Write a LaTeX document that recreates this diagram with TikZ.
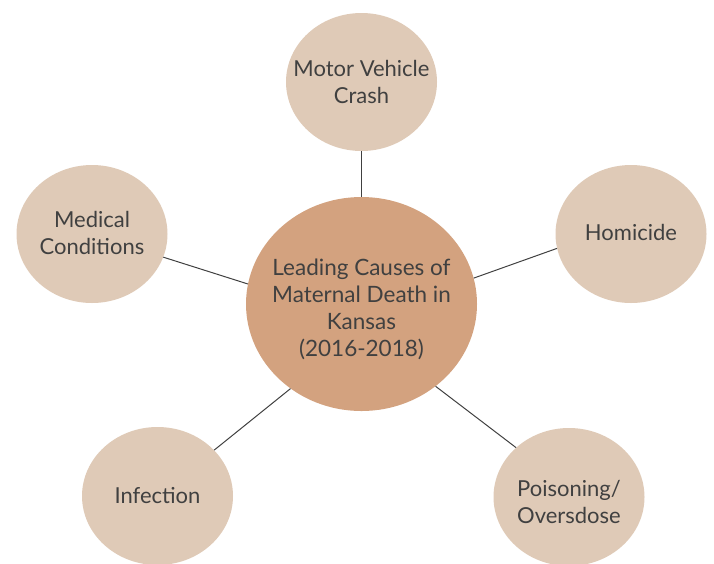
\documentclass[tikz,border=0pt]{standalone}
\usepackage{fontspec}
\setmainfont{Lato}
\usetikzlibrary{shapes.geometric}
\definecolor{hubfill}{HTML}{D3A27F}
\definecolor{leaffill}{HTML}{DFCAB7}
\definecolor{txt}{HTML}{404040}
\definecolor{edge}{HTML}{404040}
\tikzset{
  hub/.style={ellipse, fill=hubfill, minimum width=231pt, minimum height=214pt, inner sep=0pt},
  leaf/.style={ellipse, fill=leaffill, minimum width=151pt, minimum height=138pt, inner sep=0pt},
  lbl/.style={text=txt, align=center, inner sep=0pt, font=\fontsize{22}{27}\selectfont},
  hublbl/.style={lbl, font=\fontsize{22.5}{27}\selectfont},
  link/.style={draw=edge, line width=1pt}
}
\begin{document}
\begin{tikzpicture}[x=1pt,y=-1pt]
\useasboundingbox (0,0) rectangle (714,563);
\node[hub] (hub) at (361.5,304) {};
\node[leaf] (mvc) at (361.5,82) {};
\node[leaf] (med) at (92,234) {};
\node[leaf] (hom) at (631,234) {};
\node[leaf] (inf) at (157.5,496) {};
\node[leaf] (poi) at (569,497) {};
\node[hublbl] (hubtext) at (361.5,309) {Leading Causes of\\Maternal Death in\\Kansas\\(2016-2018)};
\node[lbl] (mvctext) at (361.5,82) {Motor Vehicle\\Crash};
\node[lbl] (medtext) at (92,233) {Medical\\Conditions};
\node[lbl] (homtext) at (631,232) {Homicide};
\node[lbl] (inftext) at (157.5,496) {Infection};
\node[lbl] (poitext) at (569,502) {Poisoning/\\Oversdose};
\draw[link] (mvc.south) -- (hub.north);
\draw[link] (med.-18) -- (hub.170.5);
\draw[link] (hom.191.5) -- (hub.13.6);
\draw[link] (inf.39.7) -- (hub.230.7);
\draw[link] (poi.137.2) -- (hub.-48.5);
\end{tikzpicture}
\end{document}
